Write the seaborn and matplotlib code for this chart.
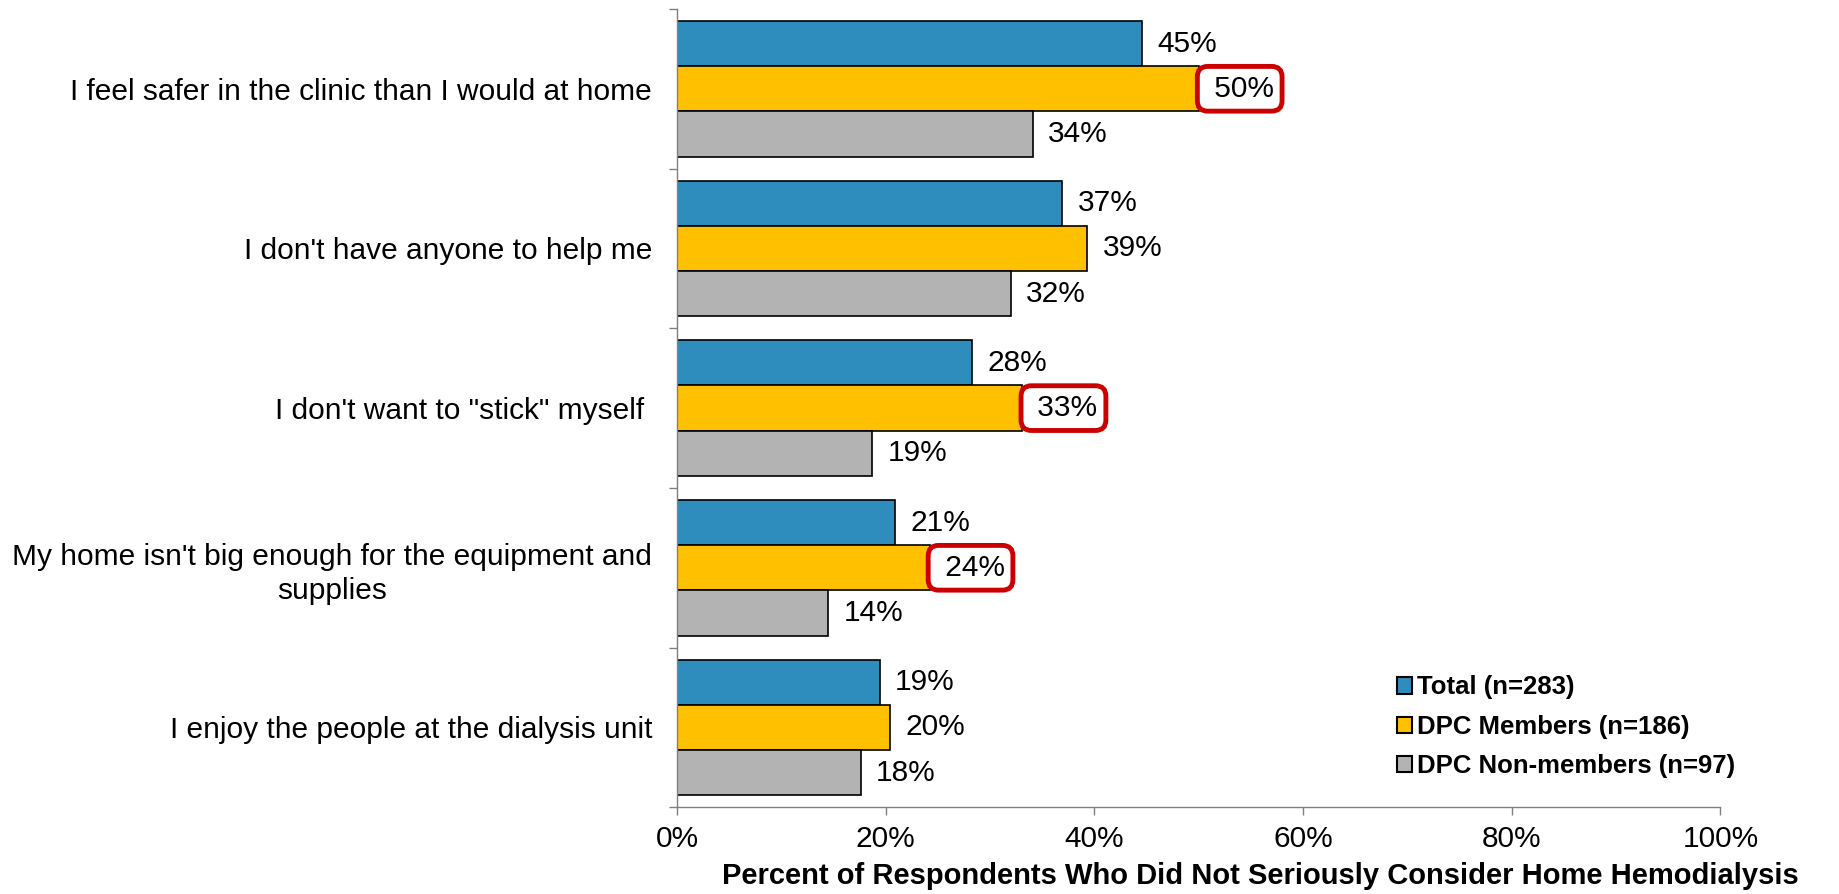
import matplotlib
matplotlib.use('Agg')
import matplotlib.pyplot as plt
import seaborn as sns
import pandas as pd
from matplotlib.ticker import FixedLocator, PercentFormatter

# data
reasons = ["I feel safer in the clinic than I would at home",
           "I don't have anyone to help me",
           "I don't want to \"stick\" myself ",
           "My home isn't big enough for the equipment and\nsupplies",
           "I enjoy the people at the dialysis unit"]
groups = ['Total (n=283)', 'DPC Members (n=186)', 'DPC Non-members (n=97)']
total = [44.6, 36.9, 28.3, 20.9, 19.4]
members = [50.0, 39.3, 33.1, 24.2, 20.4]
non_members = [34.1, 32.0, 18.7, 14.5, 17.6]
# labels highlighted with a red box (DPC Members series)
highlight = [True, False, True, True, False]

df = pd.DataFrame({
    'reason': reasons * 3,
    'group': [g for g in groups for _ in reasons],
    'pct': total + members + non_members,
})

sns.set_style('white')
plt.rcParams['font.family'] = ['Liberation Sans', 'DejaVu Sans']
plt.rcParams['text.color'] = 'black'
plt.rcParams['axes.labelcolor'] = 'black'
plt.rcParams['xtick.color'] = 'black'
plt.rcParams['ytick.color'] = 'black'

fig = plt.figure(figsize=(18.4, 8.94), dpi=100)
ax = fig.add_axes([0.368, 0.097, 0.567, 0.893])

palette = ['#2E8DBC', '#FFC000', '#B3B3B3']
sns.barplot(data=df, x='pct', y='reason', hue='group', hue_order=groups,
            order=reasons, palette=palette, width=0.85, edgecolor='black',
            linewidth=1.2, saturation=1, ax=ax)

# value labels
for gi, cont in enumerate(ax.containers):
    for ri, bar in enumerate(cont):
        v = bar.get_width()
        y = bar.get_y() + bar.get_height() / 2
        txt = f'{v:.0f}%'
        if gi == 1 and highlight[ri]:
            ax.annotate(' ' + txt, (v, y), xytext=(5, 0), textcoords='offset points',
                        va='center', ha='left', fontsize=21.5,
                        bbox=dict(boxstyle='round,pad=0.28,rounding_size=0.35',
                                  fc='white', ec='#CC0000', lw=3.5))
        else:
            ax.annotate(txt, (v, y), xytext=(11, 0), textcoords='offset points',
                        va='center', ha='left', fontsize=21.5)

ax.set_xlim(0, 100)
ax.set_ylim(4.5, -0.5)
ax.xaxis.set_major_locator(FixedLocator([0, 20, 40, 60, 80, 100]))
ax.xaxis.set_major_formatter(PercentFormatter(decimals=0))
ax.tick_params(axis='x', labelsize=21.5, length=6, width=1, color='#808080',
               direction='out', bottom=True, pad=7)
ax.tick_params(axis='y', which='major', labelsize=21.5, length=0, pad=18)
ax.yaxis.set_minor_locator(FixedLocator([-0.5, 0.5, 1.5, 2.5, 3.5, 4.5]))
ax.tick_params(axis='y', which='minor', length=6, width=1, color='#808080',
               direction='out', left=True)
for lbl in ax.get_yticklabels():
    lbl.set_multialignment('center')
    lbl.set_linespacing(1.3)

for s in ['top', 'right']:
    ax.spines[s].set_visible(False)
for s in ['left', 'bottom']:
    ax.spines[s].set_color('#808080')
    ax.spines[s].set_linewidth(1)

ax.set_ylabel('')
ax.set_xlabel('Percent of Respondents Who Did Not Seriously Consider Home Hemodialysis',
              fontsize=21, fontweight='bold', color='black')
ax.xaxis.set_label_coords(0.559, -0.068)

leg = ax.legend(loc='upper left', bbox_to_anchor=(0.68, 0.178), frameon=False,
                prop={'size': 18.5, 'weight': 'bold'}, handlelength=0.6,
                handleheight=0.6, handletextpad=0.2, labelspacing=0.6,
                borderaxespad=0)
for h in leg.legend_handles:
    h.set_edgecolor('black')
    h.set_linewidth(1.5)

fig.savefig('out.png', dpi=100)
